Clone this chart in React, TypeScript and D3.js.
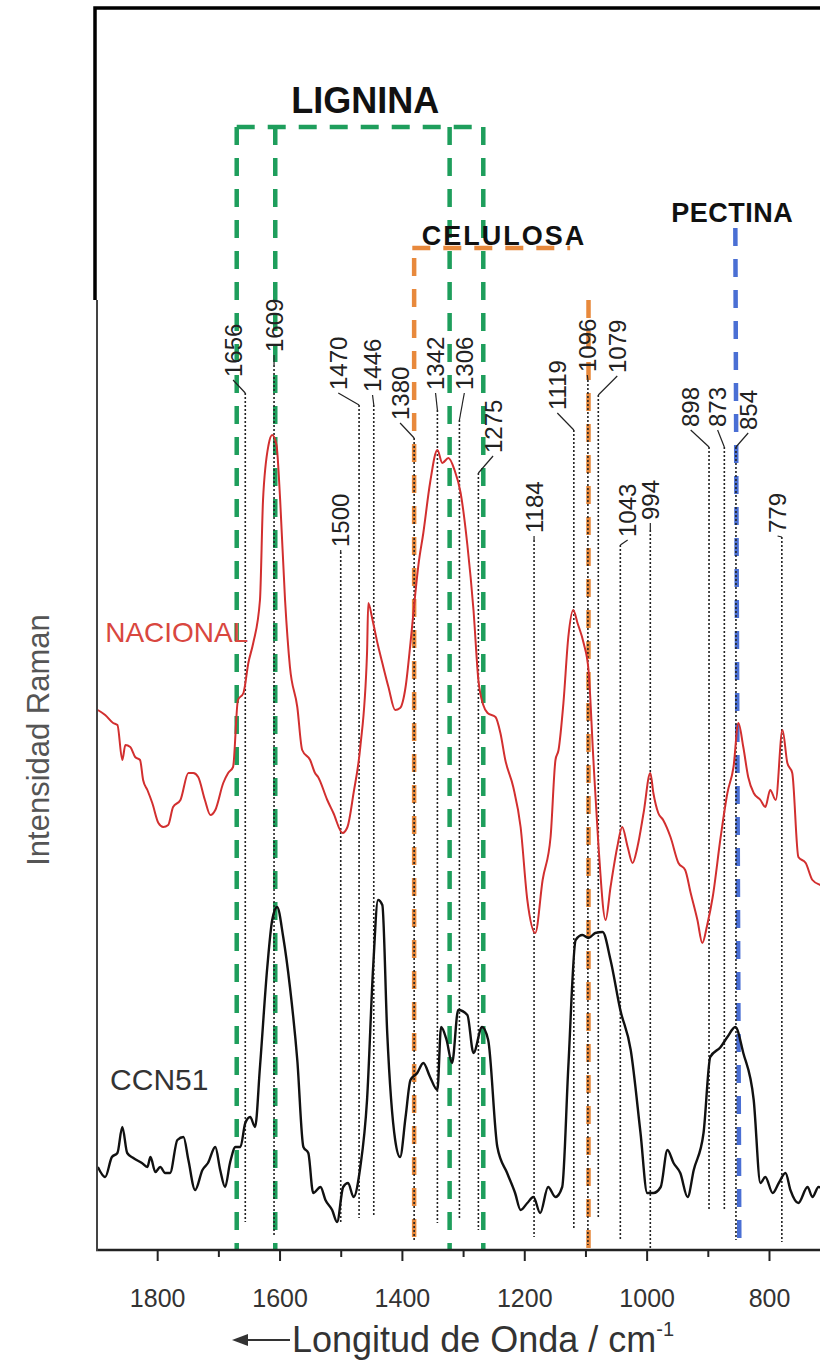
import * as d3 from "d3";
import { useEffect, useRef } from "react";

// Raman spectra (wavenumber cm-1, intensity a.u.)
const NACIONAL_WN = [1897, 1885, 1872, 1865, 1857, 1852, 1844, 1836, 1828, 1823, 1816, 1808, 1798, 1790, 1782, 1774, 1762, 1749, 1741, 1733, 1722, 1713, 1705, 1692, 1684, 1676, 1668, 1659, 1651, 1643, 1632, 1627, 1618, 1612, 1605, 1599, 1591, 1583, 1571, 1563, 1550, 1542, 1537, 1522, 1512, 1497, 1489, 1479, 1468, 1457, 1455, 1448, 1440, 1432, 1422, 1411, 1403, 1394, 1386, 1378, 1373, 1365, 1354, 1342, 1334, 1324, 1314, 1304, 1293, 1283, 1275, 1267, 1260, 1247, 1239, 1231, 1218, 1206, 1195, 1182, 1170, 1157, 1149, 1144, 1136, 1128, 1120, 1113, 1103, 1095, 1087, 1079, 1067, 1059, 1048, 1040, 1031, 1023, 1015, 1005, 994, 989, 981, 973, 961, 948, 937, 928, 917, 909, 901, 892, 879, 868, 858, 850, 842, 834, 825, 814, 806, 798, 789, 778, 770, 762, 752, 740, 729, 716, 703];
const NACIONAL_I = [54.0, 53.5, 52.7, 52.5, 49.0, 50.5, 50.3, 49.3, 49.0, 47.0, 46.0, 44.7, 42.7, 42.3, 42.5, 44.3, 45.0, 47.7, 47.7, 47.3, 45.0, 43.5, 44.0, 46.7, 47.7, 48.3, 55.0, 55.7, 58.7, 60.7, 65.0, 75.0, 80.5, 81.5, 80.5, 75.0, 65.0, 58.3, 54.3, 50.0, 49.0, 47.7, 47.3, 45.0, 43.7, 41.7, 42.3, 45.7, 50.3, 59.7, 64.7, 63.0, 60.7, 58.7, 56.3, 54.0, 54.2, 56.3, 60.7, 65.7, 68.5, 71.7, 76.7, 80.0, 78.7, 79.2, 78.0, 75.7, 70.5, 64.0, 57.0, 54.5, 53.7, 53.3, 51.7, 49.0, 46.3, 42.3, 35.0, 31.7, 37.0, 41.3, 49.0, 50.0, 54.7, 61.3, 64.0, 62.7, 60.7, 58.0, 49.0, 40.7, 33.0, 36.3, 40.3, 42.3, 40.3, 38.7, 40.3, 43.7, 47.7, 45.7, 43.7, 43.0, 41.3, 38.7, 38.0, 35.7, 33.0, 30.7, 32.5, 35.3, 41.3, 45.7, 48.3, 52.7, 50.3, 47.3, 45.7, 45.0, 44.3, 46.0, 45.0, 52.0, 48.7, 47.7, 39.3, 38.7, 37.0, 36.5, 36.2];

const CCN51_WN = [1897, 1885, 1874, 1865, 1857, 1849, 1839, 1825, 1816, 1811, 1803, 1795, 1787, 1779, 1767, 1757, 1749, 1738, 1726, 1717, 1705, 1697, 1689, 1681, 1672, 1664, 1656, 1648, 1640, 1632, 1620, 1612, 1604, 1594, 1583, 1571, 1561, 1553, 1545, 1533, 1525, 1514, 1506, 1496, 1488, 1479, 1468, 1457, 1447, 1439, 1432, 1424, 1411, 1403, 1394, 1386, 1375, 1365, 1354, 1342, 1336, 1327, 1318, 1308, 1293, 1283, 1269, 1259, 1244, 1228, 1215, 1206, 1195, 1185, 1174, 1161, 1149, 1138, 1128, 1116, 1105, 1095, 1084, 1072, 1059, 1043, 1026, 1010, 999, 989, 977, 966, 956, 945, 933, 923, 907, 896, 879, 868, 855, 842, 825, 814, 806, 794, 784, 773, 765, 752, 737, 729, 719, 706];
const CCN51_I = [8.3, 7.3, 9.3, 9.7, 12.3, 9.7, 9.2, 8.7, 8.3, 9.3, 7.8, 8.3, 7.7, 7.7, 11.0, 11.3, 9.0, 6.0, 8.0, 8.7, 10.3, 8.0, 6.3, 8.7, 10.3, 10.3, 12.7, 13.3, 12.3, 18.3, 28.3, 33.0, 34.3, 31.3, 26.3, 19.0, 10.3, 9.7, 5.7, 6.3, 5.0, 4.0, 2.8, 6.3, 6.7, 5.3, 8.3, 15.0, 28.3, 35.0, 34.5, 21.7, 11.0, 9.3, 13.3, 17.0, 17.7, 18.7, 17.3, 16.0, 22.3, 21.0, 18.7, 24.0, 23.5, 19.7, 22.3, 21.0, 10.3, 7.7, 5.7, 4.0, 4.7, 5.3, 3.7, 6.3, 5.3, 6.3, 18.3, 31.0, 31.5, 31.2, 31.7, 31.8, 29.0, 24.0, 20.0, 11.7, 5.7, 5.7, 6.3, 10.0, 8.7, 7.7, 5.3, 8.0, 11.7, 19.3, 20.3, 21.3, 22.3, 19.7, 15.0, 6.7, 7.3, 5.7, 6.7, 7.7, 6.0, 4.7, 6.3, 5.3, 6.3, 5.8];

// assigned peaks
const PEAKS = [1656, 1609, 1500, 1470, 1446, 1380, 1342, 1306, 1275, 1184, 1119, 1096, 1079, 1043, 994, 898, 873, 854, 779];

// band markers
const LIGNINA_WN = [1670, 1607, 1322, 1267];
const CELULOSA_WN = [1380, 1095];
const PECTINA_WN = [855];

const X_TICKS = [1800, 1600, 1400, 1200, 1000, 800];
const X_MINOR = [1700, 1500, 1300, 1100, 900];

// label placement (wavenumber of label centre, intensity of label foot / leader end / dotted end)
const LABEL_WN = [1676, 1609, 1500, 1504, 1448, 1403, 1345, 1298, 1251, 1184, 1146, 1097, 1048, 1031, 994, 928, 884, 834, 786];
const LABEL_FOOT = [87.3, 89.8, 70.3, 86.0, 85.8, 83.0, 86.0, 86.0, 79.7, 71.7, 84.0, 87.8, 87.7, 71.3, 73.0, 82.3, 82.3, 82.0, 71.7];
const LINE_TOP = [85.7, 88.5, 69.8, 84.5, 84.5, 81.2, 84.0, 83.0, 77.7, 71.0, 82.0, 87.0, 85.5, 70.5, 72.0, 80.3, 80.3, 80.3, 71.3];
const LINE_BOTTOM = [2.8, 1.5, 2.7, 3.2, 3.3, 1.0, 2.7, 3.0, 2.0, 1.3, 2.2, 0.5, 3.2, 1.0, 0, 4.0, 4.0, 1.0, 0.8];

const GREEN = "#1e9e5c";
const ORANGE = "#e8893c";
const BLUE = "#4a6fd4";
const RED = "#d22f2f";
const FONT = "'Liberation Sans', Arial, sans-serif";

export default function App() {
  const ref = useRef<SVGSVGElement>(null);

  useEffect(() => {
    if (!ref.current) return;
    const svg = d3.select(ref.current);
    svg.selectAll("*").remove();

    const width = 820;
    const height = 1367;
    const bottom = 1250;
    svg.attr("width", width).attr("height", height);

    const x = d3.scaleLinear().domain([1900, 715]).range([96, 821]);
    const y = d3.scaleLinear().domain([0, 124.2]).range([bottom, 8]);

    svg.append("rect").attr("width", width).attr("height", height).attr("fill", "#fff");

    // band markers
    const bands = svg.append("g").attr("fill", "none").attr("stroke-width", 4.5).attr("stroke-dasharray", "18,13");
    bands
      .selectAll("line.lig")
      .data(LIGNINA_WN)
      .join("line")
      .attr("x1", (d) => x(d))
      .attr("x2", (d) => x(d))
      .attr("y1", y(112.3))
      .attr("y2", bottom)
      .attr("stroke", GREEN);
    bands
      .append("line")
      .attr("x1", x(LIGNINA_WN[0]))
      .attr("x2", x(LIGNINA_WN[3]))
      .attr("y1", y(112.3))
      .attr("y2", y(112.3))
      .attr("stroke", GREEN);
    bands
      .selectAll("line.cel")
      .data(CELULOSA_WN)
      .join("line")
      .attr("x1", (d) => x(d))
      .attr("x2", (d) => x(d))
      .attr("y1", (d, i) => y(i === 0 ? 99.2 : 95.0))
      .attr("y2", bottom)
      .attr("stroke", ORANGE);
    bands
      .append("line")
      .attr("x1", x(1383))
      .attr("x2", x(1125))
      .attr("y1", y(100.2))
      .attr("y2", y(100.2))
      .attr("stroke", ORANGE);
    bands
      .selectAll("line.pec")
      .data(PECTINA_WN)
      .join("line")
      .attr("x1", (d) => x(d))
      .attr("x2", (d) => x(d) + 4)
      .attr("y1", y(102.2))
      .attr("y2", bottom)
      .attr("stroke", BLUE);

    // peak markers
    const peaks = svg.append("g");
    PEAKS.forEach((p, i) => {
      peaks
        .append("line")
        .attr("x1", x(p))
        .attr("x2", x(p))
        .attr("y1", y(LINE_TOP[i]))
        .attr("y2", y(LINE_BOTTOM[i]))
        .attr("stroke", "#222")
        .attr("stroke-width", 1.6)
        .attr("stroke-dasharray", "2,2");
      peaks
        .append("line")
        .attr("x1", x(LABEL_WN[i]))
        .attr("x2", x(p))
        .attr("y1", y(LABEL_FOOT[i]) + 3)
        .attr("y2", y(LINE_TOP[i]))
        .attr("stroke", "#222")
        .attr("stroke-width", 1.2);
      peaks
        .append("text")
        .attr("transform", `translate(${x(LABEL_WN[i])},${y(LABEL_FOOT[i])}) rotate(-90)`)
        .attr("dominant-baseline", "central")
        .attr("font-family", FONT)
        .attr("font-size", 24)
        .attr("fill", "#222")
        .text(String(p));
    });

    // spectra
    const path = d3.line().curve(d3.curveMonotoneX);
    const draw = (wn: number[], val: number[], color: string, w: number) => {
      const pts = wn.map((d, i) => [x(d), y(val[i])] as [number, number]);
      svg
        .append("path")
        .attr("d", path(pts))
        .attr("fill", "none")
        .attr("stroke", color)
        .attr("stroke-width", w)
        .attr("stroke-linejoin", "round");
    };
    draw(NACIONAL_WN, NACIONAL_I, RED, 2);
    draw(CCN51_WN, CCN51_I, "#111", 2.4);

    // series labels
    svg
      .append("text")
      .attr("x", x(1885))
      .attr("y", y(60.8))
      .attr("font-family", FONT)
      .attr("font-size", 28)
      .attr("fill", "#d9473f")
      .text("NACIONAL");
    svg
      .append("text")
      .attr("x", x(1877))
      .attr("y", y(16))
      .attr("font-family", FONT)
      .attr("font-size", 30)
      .attr("fill", "#333")
      .text("CCN51");

    // band titles
    const title = (t: string, wn: number, v: number, size: number, ls: number) =>
      svg
        .append("text")
        .attr("x", x(wn))
        .attr("y", y(v))
        .attr("text-anchor", "middle")
        .attr("font-family", FONT)
        .attr("font-weight", "bold")
        .attr("font-size", size)
        .attr("letter-spacing", ls)
        .attr("fill", "#111")
        .text(t);
    title("LIGNINA", 1460, 113.7, 36, 0);
    title("CELULOSA", 1233, 100.5, 27, 2);
    title("PECTINA", 860, 102.8, 27, 0.5);

    // axes
    const ax = svg.append("g").attr("transform", `translate(0,${bottom})`);
    ax.call(d3.axisBottom(x).tickValues(X_TICKS).tickSize(11).tickPadding(28).tickFormat(d3.format("d")));
    ax.select(".domain").remove();
    ax.selectAll("line").attr("stroke", "#222").attr("stroke-width", 2);
    ax.selectAll("text").attr("font-family", FONT).attr("font-size", 25).attr("fill", "#333");
    const mn = svg.append("g").attr("transform", `translate(0,${bottom})`);
    mn.call(d3.axisBottom(x).tickValues(X_MINOR).tickSize(7).tickFormat(() => ""));
    mn.select(".domain").remove();
    mn.selectAll("line").attr("stroke", "#222").attr("stroke-width", 2);

    svg.append("line").attr("x1", 96).attr("x2", width).attr("y1", bottom).attr("y2", bottom).attr("stroke", "#222").attr("stroke-width", 2.5);
    svg.append("line").attr("x1", 97).attr("x2", 97).attr("y1", 300).attr("y2", bottom + 1).attr("stroke", "#444").attr("stroke-width", 2);
    svg.append("path").attr("d", `M95,300V8H${width}`).attr("fill", "none").attr("stroke", "#000").attr("stroke-width", 3.5);

    svg
      .append("text")
      .attr("transform", `translate(38,740) rotate(-90)`)
      .attr("text-anchor", "middle")
      .attr("dominant-baseline", "central")
      .attr("font-family", FONT)
      .attr("font-size", 31)
      .attr("fill", "#555")
      .text("Intensidad Raman");

    const xt = svg
      .append("text")
      .attr("x", 292)
      .attr("y", 1352)
      .attr("font-family", FONT)
      .attr("font-size", 36)
      .attr("fill", "#333");
    xt.append("tspan").text("Longitud de Onda / cm");
    xt.append("tspan").attr("dy", -16).attr("font-size", 20).text("-1");
    svg.append("line").attr("x1", 244).attr("x2", 290).attr("y1", 1340).attr("y2", 1340).attr("stroke", "#333").attr("stroke-width", 2);
    svg.append("path").attr("d", "M232,1340L248,1334L248,1346Z").attr("fill", "#333");
  }, []);

  return (
    <div style={{ position: "absolute", left: 0, top: 0 }}>
      <svg ref={ref} style={{ display: "block" }} />
    </div>
  );
}
